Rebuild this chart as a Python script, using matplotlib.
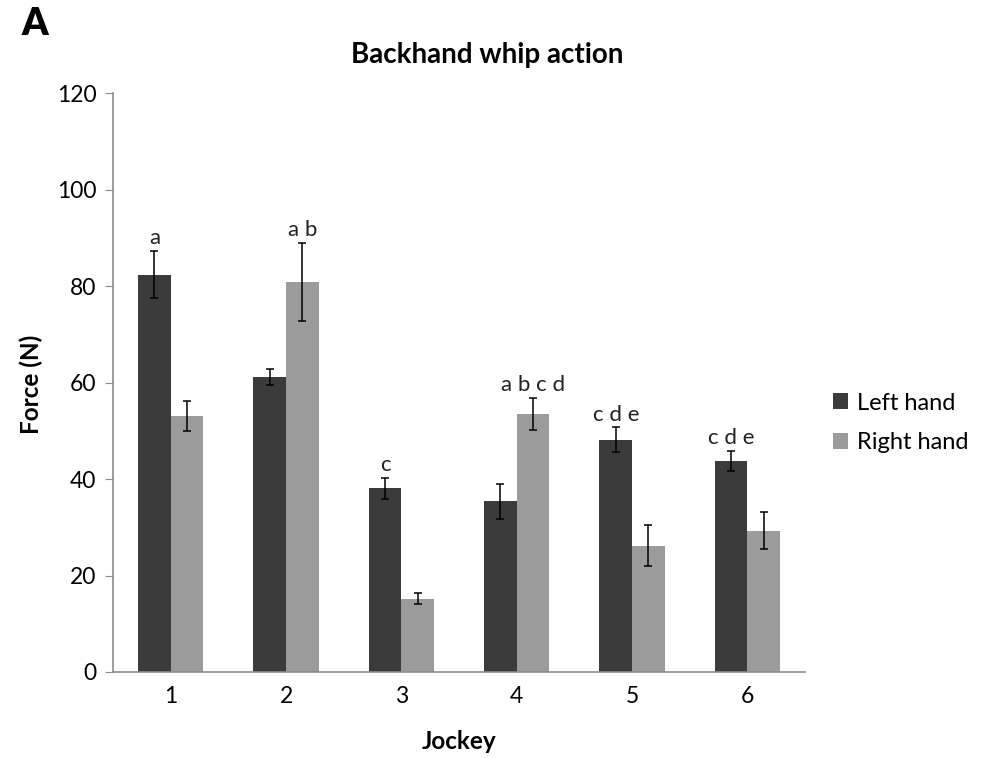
import numpy as np
import matplotlib.pyplot as plt

plt.rcParams['font.family'] = ['Lato', 'DejaVu Sans']

jockeys = ['1', '2', '3', '4', '5', '6']
left_hand = [82.4, 61.2, 38.1, 35.4, 48.2, 43.8]
left_err = [4.9, 1.7, 2.2, 3.6, 2.5, 2.1]
right_hand = [53.1, 80.9, 15.2, 53.5, 26.2, 29.3]
right_err = [3.1, 8.1, 1.2, 3.4, 4.3, 3.8]
left_labels = ['a', '', 'c', '', 'c d e', 'c d e']
right_labels = ['', 'a b', '', 'a b c d', '', '']

dark = '#3b3b3b'
light = '#9b9b9b'
axis_col = '#8c8c8c'

fig = plt.figure(figsize=(9.92, 7.58), dpi=100)
ax = fig.add_axes([0.114, 0.1135, 0.6976, 0.7635])

x = np.arange(1, len(jockeys) + 1)
w = 0.283
ekw = dict(ecolor='black', elinewidth=1.1, capsize=3, capthick=1.1)
ax.bar(x - w / 2, left_hand, w, color=dark, yerr=left_err, error_kw=ekw,
       label='Left hand', zorder=2)
ax.bar(x + w / 2, right_hand, w, color=light, yerr=right_err, error_kw=ekw,
       label='Right hand', zorder=2)

# significance letters above the error bars
for i in range(len(jockeys)):
    if left_labels[i]:
        ax.annotate(left_labels[i], (x[i] - w / 2, left_hand[i] + left_err[i]),
                    xytext=(0, 2), textcoords='offset points',
                    ha='center', va='bottom', fontsize=16, color='#222222')
    if right_labels[i]:
        ax.annotate(right_labels[i], (x[i] + w / 2, right_hand[i] + right_err[i]),
                    xytext=(0, 2), textcoords='offset points',
                    ha='center', va='bottom', fontsize=16, color='#222222')

ax.set_xlim(0.5, 6.5)
ax.set_ylim(0, 120)
ax.set_yticks(range(0, 121, 20))
ax.set_xticks(x)
ax.set_xticklabels(jockeys)
ax.tick_params(axis='y', length=6, color=axis_col, labelsize=16.5, pad=6)
ax.tick_params(axis='x', length=0, labelsize=16.5, pad=10)
for s in ['top', 'right']:
    ax.spines[s].set_visible(False)
for s in ['left', 'bottom']:
    ax.spines[s].set_color(axis_col)
    ax.spines[s].set_linewidth(1.2)

fig.text(0.4914, 0.9274, 'Backhand whip action', fontsize=20, fontweight='bold',
         ha='center', va='center')
fig.text(0.032, 0.4934, 'Force (N)', fontsize=17.5, fontweight='bold',
         rotation=90, ha='center', va='center')
fig.text(0.4627, 0.0224, 'Jockey', fontsize=17.5, fontweight='bold',
         ha='center', va='center')

fig.legend(loc='center left', bbox_to_anchor=(0.8397, 0.442), frameon=False,
           fontsize=17, handlelength=0.65, handleheight=0.65,
           handletextpad=0.35, labelspacing=0.8, borderpad=0, borderaxespad=0)

fig.text(0.022, 0.968, 'A', fontsize=27, fontweight='heavy', va='center')

fig.savefig('out.png', dpi=100)
